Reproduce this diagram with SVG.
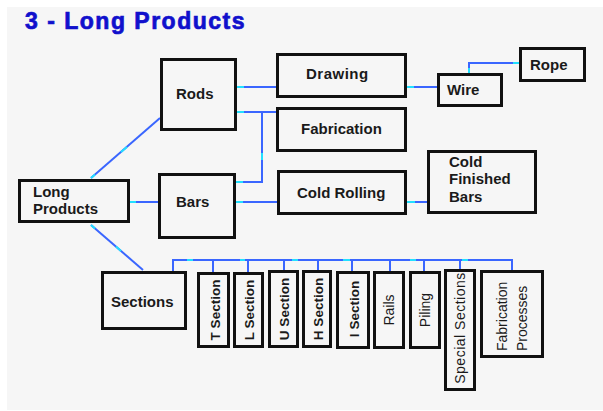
<svg xmlns="http://www.w3.org/2000/svg" width="603" height="411" viewBox="0 0 603 411">
<style>
.box{fill:#f6f6f6;stroke:#111;stroke-width:3}
.lbl{font-family:"Liberation Sans",Arial,sans-serif;font-size:15px;font-weight:bold;fill:#1a1a1a}
.vb{font-family:"Liberation Sans",Arial,sans-serif;font-size:13.5px;font-weight:bold;fill:#1a1a1a;text-anchor:middle}
.vn{font-family:"Liberation Sans",Arial,sans-serif;font-size:14px;fill:#1a1a1a}
.ln{fill:none;stroke:#3a66ff;stroke-width:2}
.cy{fill:none;stroke:#22e0ff;stroke-width:2}
</style>
<rect x="0" y="0" width="603" height="411" fill="#ffffff"/>
<rect x="7" y="7" width="596" height="403" fill="#f6f6f6"/>
<text x="25" y="29" font-family="'Liberation Sans',Arial,sans-serif" font-size="23" font-weight="bold" letter-spacing="1.5" fill="#1010cc" stroke="#1010cc" stroke-width="0.7">3 - Long Products</text>

<g id="connectors">
<line class="ln" x1="91" y1="178" x2="160" y2="118"/>
<line class="ln" x1="130" y1="202" x2="158" y2="202"/>
<line class="ln" x1="91" y1="225" x2="143" y2="270"/>
<line class="ln" x1="237" y1="87" x2="276" y2="87"/>
<line class="ln" x1="237" y1="112" x2="276" y2="112"/>
<polyline class="ln" points="262,112 262,182 236,182"/>
<line class="ln" x1="236" y1="202" x2="277" y2="202"/>
<line class="ln" x1="407" y1="87" x2="437" y2="87"/>
<polyline class="ln" points="469,73 469,63 519,63"/>
<line class="ln" x1="407" y1="202" x2="427" y2="202"/>
<line class="ln" x1="172" y1="260" x2="513" y2="260"/>
<line class="ln" x1="173" y1="259" x2="173" y2="271"/>
<line class="ln" x1="213" y1="260" x2="213" y2="272"/>
<line class="ln" x1="248" y1="260" x2="248" y2="272"/>
<line class="ln" x1="284" y1="260" x2="284" y2="270"/>
<line class="ln" x1="318" y1="260" x2="318" y2="270"/>
<line class="ln" x1="352" y1="260" x2="352" y2="271"/>
<line class="ln" x1="390" y1="260" x2="390" y2="271"/>
<line class="ln" x1="424" y1="260" x2="424" y2="271"/>
<line class="ln" x1="460" y1="260" x2="460" y2="269"/>
<line class="ln" x1="512" y1="259" x2="512" y2="270"/>
<line class="cy" x1="91" y1="178" x2="95" y2="174.5"/>
<line class="cy" x1="121" y1="152" x2="127" y2="147"/>
<line class="cy" x1="130" y1="202" x2="136" y2="202"/>
<line class="cy" x1="91" y1="225" x2="95" y2="228.5"/>
<line class="cy" x1="116" y1="246.5" x2="121" y2="251"/>
<line class="cy" x1="237" y1="87" x2="244" y2="87"/>
<line class="cy" x1="237" y1="112" x2="244" y2="112"/>
<line class="cy" x1="262" y1="153" x2="262" y2="160"/>
<line class="cy" x1="236" y1="182" x2="243" y2="182"/>
<line class="cy" x1="236" y1="202" x2="243" y2="202"/>
<line class="cy" x1="407" y1="87" x2="414" y2="87"/>
<line class="cy" x1="469" y1="68" x2="469" y2="73"/>
<line class="cy" x1="513" y1="63" x2="519" y2="63"/>
<line class="cy" x1="407" y1="202" x2="415" y2="202"/>
<line class="cy" x1="187" y1="260" x2="193" y2="260"/>
<line class="cy" x1="240" y1="260" x2="245" y2="260"/>
<line class="cy" x1="292" y1="260" x2="298" y2="260"/>
<line class="cy" x1="343" y1="260" x2="350" y2="260"/>
<line class="cy" x1="410" y1="260" x2="416" y2="260"/>
<line class="cy" x1="462" y1="260" x2="468" y2="260"/>
</g>

<g id="long-products"><rect class="box" x="19.5" y="180.5" width="109" height="41"/><text class="lbl" x="33" y="197">Long</text><text class="lbl" x="33" y="214">Products</text></g>
<g id="rods"><rect class="box" x="161.5" y="59.5" width="74" height="70"/><text class="lbl" x="176" y="99">Rods</text></g>
<g id="bars"><rect class="box" x="159.5" y="174.5" width="75" height="63"/><text class="lbl" x="176" y="207">Bars</text></g>
<g id="drawing"><rect class="box" x="277.5" y="54.5" width="128" height="42"/><text class="lbl" x="306" y="79" letter-spacing="0.5">Drawing</text></g>
<g id="fabrication"><rect class="box" x="277.5" y="108.5" width="128" height="42"/><text class="lbl" x="301" y="134">Fabrication</text></g>
<g id="cold-rolling"><rect class="box" x="278.5" y="171.5" width="127" height="42"/><text class="lbl" x="297" y="198">Cold Rolling</text></g>
<g id="wire"><rect class="box" x="438.5" y="74.5" width="63" height="31"/><text class="lbl" x="447" y="95">Wire</text></g>
<g id="rope"><rect class="box" x="520.5" y="48.5" width="64" height="32"/><text class="lbl" x="530" y="70">Rope</text></g>
<g id="cold-finished-bars"><rect class="box" x="428.5" y="151.5" width="107" height="61"/><text class="lbl" x="449" y="167">Cold</text><text class="lbl" x="449" y="184">Finished</text><text class="lbl" x="449" y="202">Bars</text></g>
<g id="sections"><rect class="box" x="102.5" y="272.5" width="83" height="56"/><text class="lbl" x="111" y="307">Sections</text></g>

<g id="t-section"><rect class="box" x="198.5" y="273.5" width="30" height="73"/><text class="vb" transform="translate(215,310) rotate(-90)" dy="0.36em">T Section</text></g>
<g id="l-section"><rect class="box" x="234.5" y="273.5" width="28" height="73"/><text class="vb" transform="translate(249,310) rotate(-90)" dy="0.36em">L Section</text></g>
<g id="u-section"><rect class="box" x="269.5" y="271.5" width="28" height="75"/><text class="vb" transform="translate(284,309) rotate(-90)" dy="0.36em">U Section</text></g>
<g id="h-section"><rect class="box" x="303.5" y="271.5" width="27" height="75"/><text class="vb" transform="translate(318,309) rotate(-90)" dy="0.36em">H Section</text></g>
<g id="i-section"><rect class="box" x="337.5" y="272.5" width="31" height="75"/><text class="vb" transform="translate(354,309) rotate(-90)" dy="0.36em">I Section</text></g>
<g id="rails"><rect class="box" x="374.5" y="272.5" width="29" height="75"/><text class="vn" text-anchor="middle" transform="translate(389,310) rotate(-90)" dy="0.36em">Rails</text></g>
<g id="piling"><rect class="box" x="410.5" y="272.5" width="29" height="75"/><text class="vn" text-anchor="middle" transform="translate(425,310) rotate(-90)" dy="0.36em">Piling</text></g>
<g id="special-sections"><rect class="box" x="445.5" y="270.5" width="29" height="119"/><text class="vn" text-anchor="middle" transform="translate(460,328) rotate(-90)" dy="0.36em" letter-spacing="0.5">Special Sections</text></g>
<g id="fabrication-processes"><rect class="box" x="481.5" y="271.5" width="61" height="85"/><text class="vn" transform="translate(507,351) rotate(-90)" font-size="14.5">Fabrication</text><text class="vn" transform="translate(527,351) rotate(-90)" font-size="14.5">Processes</text></g>
</svg>
